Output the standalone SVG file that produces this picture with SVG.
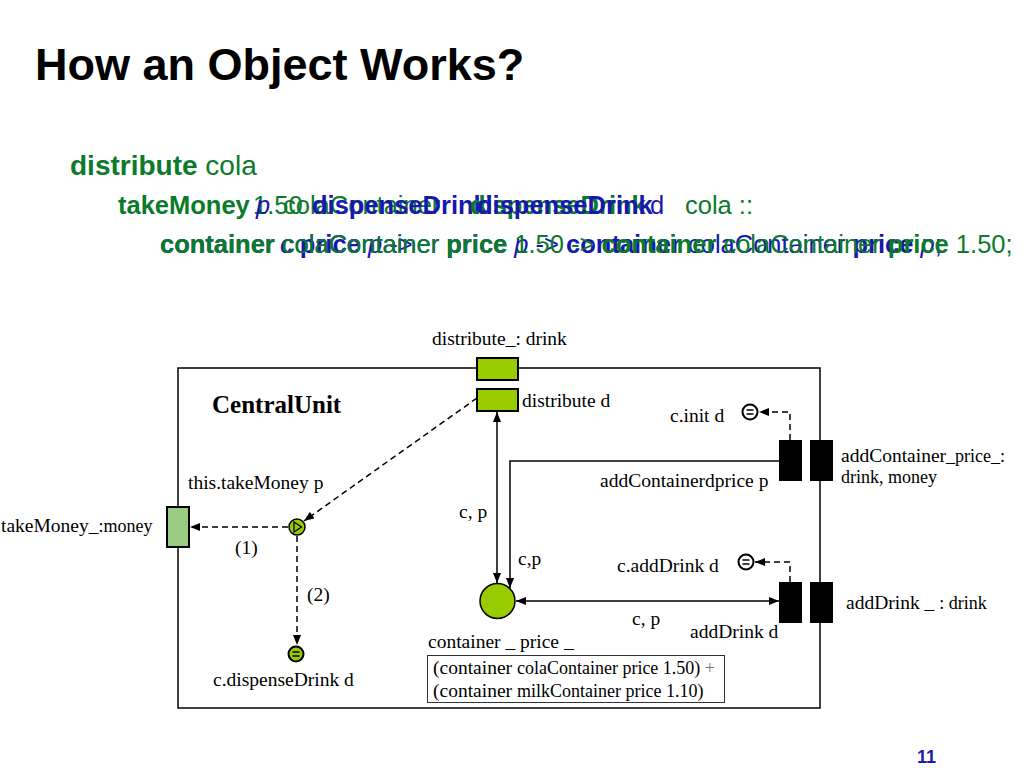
<svg xmlns="http://www.w3.org/2000/svg" width="1024" height="768" viewBox="0 0 1024 768">
<defs>
<marker id="ah" viewBox="0 0 10 8" refX="10" refY="4" markerWidth="11" markerHeight="8" markerUnits="userSpaceOnUse" orient="auto-start-reverse"><path d="M0,0 L10,4 L0,8 z" fill="#000"/></marker>
</defs>
<style>
.t{font-family:"Liberation Serif","Times New Roman",serif;font-size:19.5px;fill:#000}
.sm{font-size:18px}
.cu{font-size:25px;font-weight:bold}
.h{font-family:"Liberation Sans",Arial,sans-serif}
.l2{font-size:25.5px}
.g{fill:#0b7a2b}
.b{fill:#1818b0}
.bd{font-weight:bold}
.it{font-style:italic}
.ln{stroke:#000;stroke-width:1.5;fill:none}
.dash{stroke:#000;stroke-width:1.5;fill:none;stroke-dasharray:6,4}
.port{fill:#99cc00;stroke:#000;stroke-width:2}
.bp{fill:#000}
.eq{fill:#fff;stroke:#000;stroke-width:2}
</style>
<rect width="1024" height="768" fill="#fff"/>
<text x="35" y="80" class="h bd" font-size="45" fill="#000">How an Object Works?</text>

<g id="code">
<text x="70" y="175" class="h g" font-size="28"><tspan class="bd">distribute</tspan> cola</text>
<text x="118" y="214" class="h l2 g bd">takeMoney</text>
<text x="253" y="214" class="h l2 g">1.50</text>
<text x="256" y="214" class="h l2 b it">p</text>
<text x="283" y="214" class="h l2 g">colaContainer</text>
<text x="312" y="214" class="h l2 b bd">dispenseDrink</text>
<text x="470" y="214" class="h l2 g bd">dispenseDrink</text>
<text x="477" y="214" class="h l2 b bd">dispenseDrink</text>
<text x="650" y="214" class="h l2 b">d</text>
<text x="685" y="214" class="h l2 g">cola ::</text>

<text x="160" y="253" class="h l2 b"><tspan class="bd">container</tspan> colaContainer <tspan class="bd">price</tspan> <tspan class="it">p</tspan> -&gt; <tspan class="bd">container</tspan> colaContainer <tspan class="bd">price</tspan> <tspan class="it">p</tspan>;</text>
<text x="280" y="253" class="h l2 b"><tspan class="it">c</tspan> <tspan class="bd">price</tspan> <tspan class="it">p</tspan> -&gt;</text>
<text x="160" y="253" class="h l2 g"><tspan class="bd">container</tspan> colaContainer <tspan class="bd">price</tspan> 1.50 -&gt; <tspan class="bd">container</tspan> colaContainer <tspan class="bd">price</tspan> 1.50;</text>
</g>

<g id="CentralUnit">
<rect x="178" y="368" width="642" height="340" fill="none" stroke="#000" stroke-width="1.5"/>
<text x="212" y="413" class="t cu">CentralUnit</text>
</g>

<g id="connectors">
<line x1="497" y1="412" x2="497" y2="583" class="ln" marker-start="url(#ah)" marker-end="url(#ah)"/>
<path d="M779,461 H510 V588" class="ln" marker-end="url(#ah)"/>
<line x1="516" y1="601" x2="779" y2="601" class="ln" marker-start="url(#ah)" marker-end="url(#ah)"/>
<path d="M790,440 V412 H759" class="dash" marker-end="url(#ah)"/>
<path d="M790,582 V562 H755" class="dash" marker-end="url(#ah)"/>
<path d="M288,527 H190" class="dash" marker-end="url(#ah)"/>
<path d="M297,536 V645" class="dash" marker-end="url(#ah)"/>
<path d="M477,398 L304,521" class="dash" marker-end="url(#ah)"/>
</g>

<g id="distribute_port">
<rect x="477" y="358" width="41" height="22" class="port"/>
<rect x="477" y="389" width="41" height="22" class="port"/>
<text x="432" y="345" class="t">distribute_: drink</text>
<text x="522" y="407" class="t">distribute d</text>
</g>

<g id="takeMoney_port">
<rect x="167" y="507" width="22" height="40" fill="#99cc80" stroke="#000" stroke-width="2"/>
<text x="1" y="532" class="t">takeMoney_<tspan class="sm">:money</tspan></text>
<text x="235" y="554" class="t">(1)</text>
</g>

<g id="takeMoney_call">
<circle cx="297" cy="527" r="8" fill="#99cc00" stroke="#000" stroke-width="1.5"/>
<path d="M294,522 L301.5,527 L294,532 z" fill="none" stroke="#000" stroke-width="1.3"/>
<text x="188" y="489" class="t">this.takeMoney p</text>
<text x="307" y="601" class="t">(2)</text>
</g>

<g id="dispenseDrink_call">
<circle cx="296" cy="654" r="7.5" fill="#99cc00" stroke="#000" stroke-width="2"/>
<path d="M292.5,652 H299.5 M292.5,656 H299.5" stroke="#000" stroke-width="1.5"/>
<text x="213" y="686" class="t">c.dispenseDrink d</text>
</g>

<g id="container_attr">
<circle cx="497.5" cy="601" r="17.5" fill="#99cc00" stroke="#000" stroke-width="1.5"/>
<text x="459" y="518" class="t">c, p</text>
<text x="518" y="565" class="t">c,p</text>
<text x="428" y="648" class="t">container _ price _</text>
<rect x="427.5" y="655.5" width="297" height="47" fill="#fff" stroke="#333" stroke-width="1"/>
<text x="433" y="674" class="t">(container <tspan class="sm">colaContainer price 1.50) <tspan fill="#777">+</tspan></tspan></text>
<text x="433" y="697" class="t">(container <tspan class="sm">milkContainer price 1.10)</tspan></text>
</g>

<g id="addContainer_port">
<rect x="779" y="440" width="23" height="41" class="bp"/>
<rect x="810" y="440" width="23" height="41" class="bp"/>
<circle cx="750" cy="412" r="7.5" class="eq"/>
<path d="M746.5,410 H753.5 M746.5,414 H753.5" stroke="#000" stroke-width="1.5"/>
<text x="670" y="422" class="t">c.init d</text>
<text x="600" y="487" class="t">addContainerdprice p</text>
<text x="841" y="462" class="t">addContainer<tspan class="sm">_price_:</tspan></text>
<text x="841" y="483" class="t"><tspan class="sm">drink, money</tspan></text>
</g>

<g id="addDrink_port">
<rect x="779" y="582" width="23" height="41" class="bp"/>
<rect x="810" y="582" width="23" height="41" class="bp"/>
<circle cx="746" cy="562" r="7.5" class="eq"/>
<path d="M742.5,560 H749.5 M742.5,564 H749.5" stroke="#000" stroke-width="1.5"/>
<text x="617" y="572" class="t">c.addDrink d</text>
<text x="632" y="625" class="t">c, p</text>
<text x="690" y="638" class="t">addDrink d</text>
<text x="846" y="609" class="t">addDrink _ <tspan class="sm">: drink</tspan></text>
</g>

<text x="917" y="763" class="h bd" font-size="18" fill="#1a1ab0">11</text>
</svg>
